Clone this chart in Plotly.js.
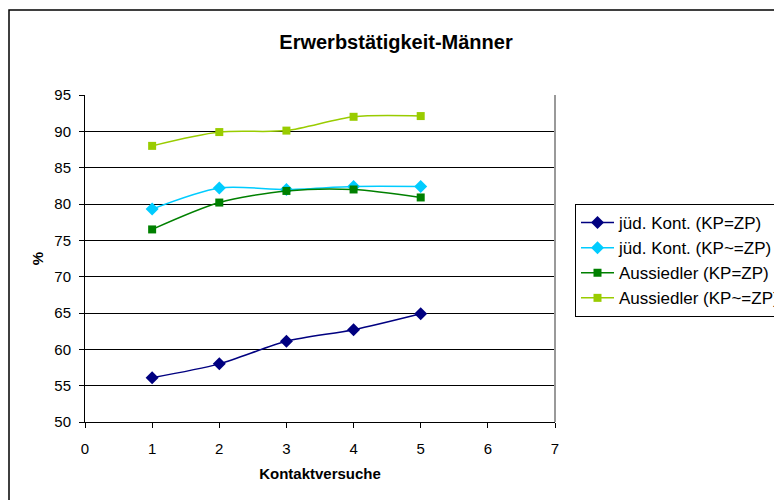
<!DOCTYPE html>
<html>
<head>
<meta charset="utf-8">
<script src="https://cdn.plot.ly/plotly-3.0.1.min.js"></script>
<style>
  html, body { margin: 0; padding: 0; background: #fff; overflow: hidden; }
  #wrap { width: 774px; height: 500px; overflow: hidden; }
  #chart { width: 800px; height: 500px; }
</style>
</head>
<body>
<div id="wrap"><div id="chart"></div></div>
<script>
// Contact attempts (x) and employment share in percent per group
const kontaktversuche = [1, 2, 3, 4, 5];
const juedKontGleich = [56.1, 58.0, 61.1, 62.7, 64.9];
const juedKontUngleich = [79.3, 82.2, 82.0, 82.4, 82.4];
const aussiedlerGleich = [76.5, 80.2, 81.8, 82.0, 80.9];
const aussiedlerUngleich = [88.0, 89.9, 90.1, 92.0, 92.1];

const seriesNames = [
  "jüd. Kont. (KP=ZP)",
  "jüd. Kont. (KP~=ZP)",
  "Aussiedler (KP=ZP)",
  "Aussiedler (KP~=ZP)"
];
const xTicks = [0, 1, 2, 3, 4, 5, 6, 7];
const yTicks = [50, 55, 60, 65, 70, 75, 80, 85, 90, 95];

const FONT = "Liberation Sans, Arial, sans-serif";

// The chart sheet is wider than the visible window, so the legend box runs off the right edge.
const W = 800, H = 500;
const PLOT_L = 85, PLOT_R = 555, PLOT_T = 95, PLOT_B = 422;
const px2x = p => (p - PLOT_L) / (PLOT_R - PLOT_L);
const px2y = p => (PLOT_B - p) / (PLOT_B - PLOT_T);

function serie(name, y, color, symbol, size) {
  return {
    type: "scatter",
    mode: "lines+markers",
    name: name,
    x: kontaktversuche,
    y: y,
    line: { color: color, width: 1.5, shape: "spline", smoothing: 0.8 },
    marker: { color: color, symbol: symbol, size: size }
  };
}

const data = [
  serie(seriesNames[0], juedKontGleich, "#000080", "diamond", 10),
  serie(seriesNames[1], juedKontUngleich, "#00CCFF", "diamond", 10),
  serie(seriesNames[2], aussiedlerGleich, "#008000", "square", 8),
  serie(seriesNames[3], aussiedlerUngleich, "#99CC00", "square", 8)
];

const layout = {
  width: W,
  height: H,
  margin: { l: PLOT_L, r: W - PLOT_R, t: PLOT_T, b: H - PLOT_B },
  paper_bgcolor: "#ffffff",
  plot_bgcolor: "#ffffff",
  font: { family: FONT, size: 15, color: "#000" },
  title: {
    text: "<b>Erwerbstätigkeit-Männer</b>",
    font: { family: FONT, size: 20, color: "#000" },
    x: px2x(396), xref: "paper", xanchor: "center",
    y: 1 - 42 / H, yanchor: "middle"
  },
  xaxis: {
    range: [0, 7],
    tickvals: xTicks,
    ticktext: xTicks.map(String),
    ticks: "outside", ticklen: 5, tickcolor: "#000",
    ticklabelstandoff: 8,
    showgrid: false, zeroline: false,
    showline: true, linecolor: "#000", linewidth: 1,
    tickfont: { family: FONT, size: 15 },
    title: { text: "<b>Kontaktversuche</b>", font: { family: FONT, size: 15 }, standoff: 12 },
    fixedrange: true
  },
  yaxis: {
    range: [50, 95],
    tickvals: yTicks,
    ticktext: yTicks.map(String),
    ticks: "outside", ticklen: 5, tickcolor: "#000",
    ticklabelstandoff: 5,
    showgrid: true, gridcolor: "#000", gridwidth: 1,
    zeroline: false,
    showline: true, linecolor: "#000", linewidth: 1,
    tickfont: { family: FONT, size: 15 },
    title: { text: "<b>%</b>", font: { family: FONT, size: 15 }, standoff: 7 },
    fixedrange: true
  },
  legend: {
    x: px2x(575), xanchor: "left",
    y: px2y(204), yanchor: "top",
    bgcolor: "#ffffff",
    bordercolor: "#000", borderwidth: 1,
    font: { family: FONT, size: 17 },
    itemwidth: 33,
    tracegroupgap: 0
  },
  shapes: [
    // outer chart frame
    { type: "rect", xref: "paper", yref: "paper",
      x0: px2x(9), x1: px2x(795),
      y0: px2y(520), y1: px2y(10),
      line: { color: "#000", width: 1.5 }, fillcolor: "rgba(0,0,0,0)", layer: "below" },
    // right edge of plot area
    { type: "line", xref: "paper", yref: "paper", x0: 1, x1: 1, y0: 0, y1: 1,
      line: { color: "#999", width: 2 } }
  ],
  showlegend: true
};

Plotly.newPlot("chart", data, layout, { displayModeBar: false, staticPlot: true });
</script>
</body>
</html>
